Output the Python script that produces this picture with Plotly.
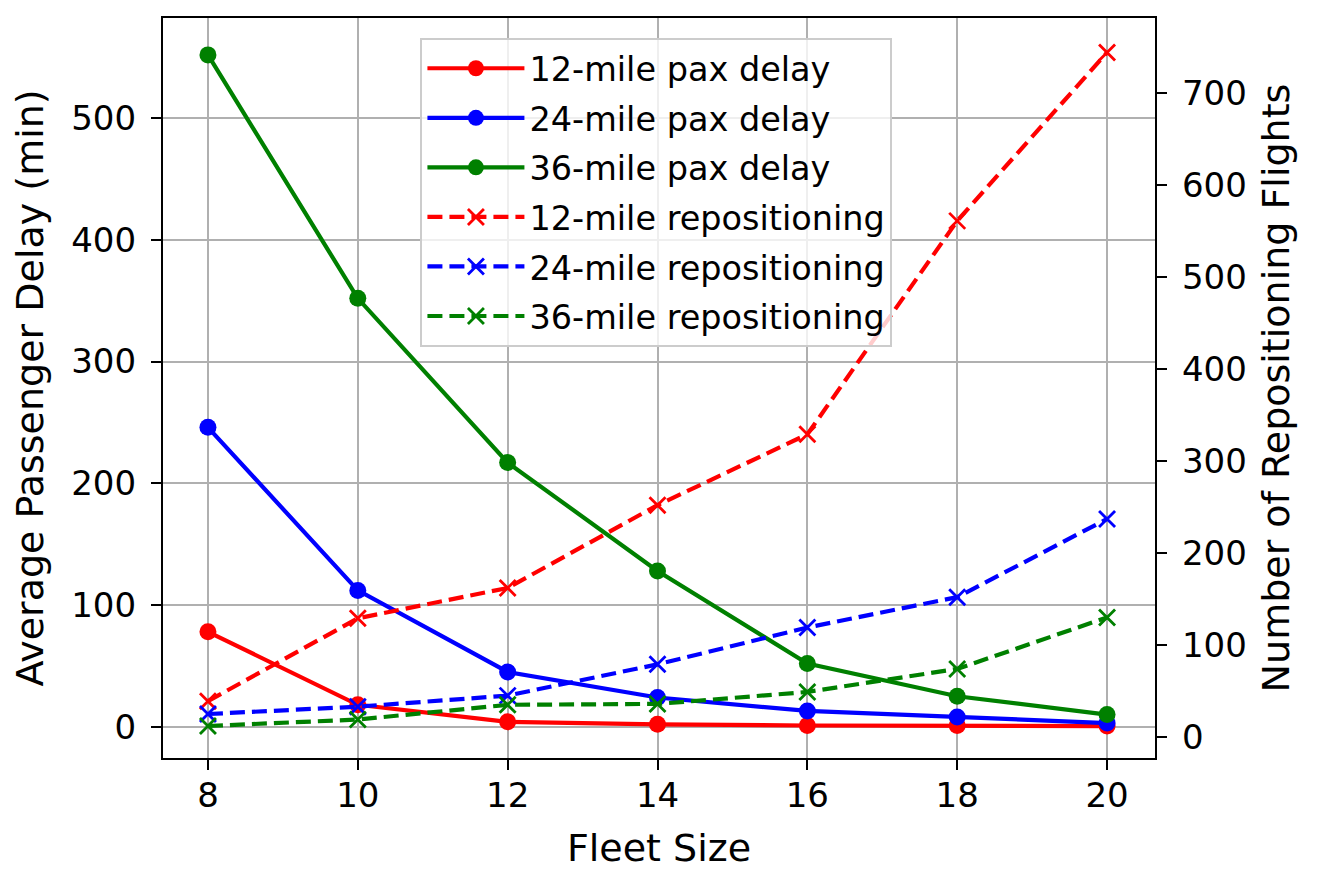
import plotly.graph_objects as go

fleet = [8, 10, 12, 14, 16, 18, 20]

# average passenger delay (min), left axis
delay12 = [78, 18, 4, 2, 1, 1, 0.5]
delay24 = [246, 112, 45, 24, 13, 8, 3]
delay36 = [552, 352, 217, 128, 52, 25, 10]

# number of repositioning flights, right axis
repo12 = [39, 129, 162, 252, 329, 561, 744]
repo24 = [25, 33, 45, 79, 119, 152, 237]
repo36 = [12, 19, 35, 36, 49, 74, 130]

colors = ["red", "blue", "green"]
dist = ["12-mile", "24-mile", "36-mile"]

fig = go.Figure()

for d, vals, c in zip(dist, [delay12, delay24, delay36], colors):
    fig.add_trace(go.Scatter(
        x=fleet, y=vals, name=d + " pax delay", legendgroup=d + "pax",
        mode="lines+markers",
        line=dict(color=c, width=4.2),
        marker=dict(symbol="circle", size=17, color=c),
        yaxis="y"))

for d, vals, c in zip(dist, [repo12, repo24, repo36], colors):
    fig.add_trace(go.Scatter(
        x=fleet, y=vals, name=d + " repositioning", legendgroup=d + "rep",
        mode="lines+markers",
        line=dict(color=c, width=4.2, dash="15px,7px"),
        marker=dict(symbol="x-thin", size=16, color=c, line=dict(color=c, width=2.8)),
        yaxis="y2"))

font = "DejaVu Sans"
axis_common = dict(
    showline=True, linecolor="black", linewidth=2.2,
    ticks="outside", ticklen=10, tickwidth=2.2, tickcolor="black",
    tickfont=dict(family=font, size=34, color="black"),
    zeroline=False, automargin=False,
)

# page body has an 8px margin, so the figure is shrunk by 8px and margins shifted
fig.update_layout(
    width=1309, height=877,
    margin=dict(l=155, r=162, t=10, b=127),
    paper_bgcolor="white", plot_bgcolor="white",
    font=dict(family=font, color="black"),
    showlegend=True,
    xaxis=dict(
        range=[7.4, 20.64], tickvals=fleet, mirror=True,
        showgrid=True, gridcolor="#b0b0b0", gridwidth=2.2,
        ticklabelstandoff=-4,
        title=dict(text="Fleet Size", font=dict(family=font, size=38), standoff=20),
        **axis_common),
    yaxis=dict(
        range=[-25.7, 582.3], tickvals=[0, 100, 200, 300, 400, 500],
        showgrid=True, gridcolor="#b0b0b0", gridwidth=2.2,
        ticklabelstandoff=8,
        title=dict(text="Average Passenger Delay (min)", font=dict(family=font, size=38), standoff=18),
        **axis_common),
    yaxis2=dict(
        range=[-22.8, 781.5], tickvals=[0, 100, 200, 300, 400, 500, 600, 700],
        overlaying="y", side="right", showgrid=False,
        ticklabelstandoff=8,
        title=dict(text="Number of Repositioning Flights", font=dict(family=font, size=38), standoff=17),
        **axis_common),
    legend=dict(
        x=0.2595, y=0.973, xanchor="left", yanchor="top",
        bgcolor="rgba(255,255,255,0.8)", bordercolor="#cccccc", borderwidth=2,
        font=dict(family=font, size=33.5, color="black"),
        itemwidth=97, tracegroupgap=3,
    ),
)

fig.write_html("out.html")
